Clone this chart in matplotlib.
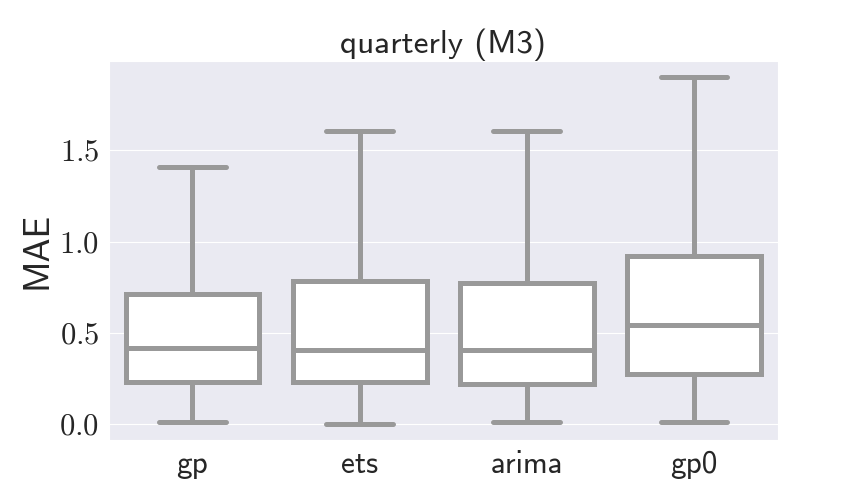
import matplotlib
matplotlib.use("Agg")
import matplotlib.pyplot as plt
from matplotlib.ticker import FuncFormatter, MultipleLocator
import seaborn as sns

methods = ["gp", "ets", "arima", "gp0"]
whislo = [0.011, 0.005, 0.011, 0.011]
q1 = [0.230, 0.230, 0.224, 0.274]
med = [0.416, 0.405, 0.410, 0.547]
q3 = [0.712, 0.783, 0.777, 0.925]
whishi = [1.412, 1.604, 1.604, 1.905]

sns.set_style("darkgrid")
plt.rcParams["mathtext.fontset"] = "cm"
plt.rcParams["font.family"] = ["cmss10", "DejaVu Sans"]

stats = []
for i, m in enumerate(methods):
    stats.append({"label": m, "whislo": whislo[i], "q1": q1[i], "med": med[i],
                  "q3": q3[i], "whishi": whishi[i], "fliers": []})

gray = "#999999"
lw = 3.6
fig, ax = plt.subplots(figsize=(8.64, 5.04), dpi=100)
ax.bxp(stats, positions=range(len(methods)), widths=0.8, patch_artist=True,
       showfliers=False,
       boxprops=dict(facecolor="white", edgecolor=gray, linewidth=lw),
       medianprops=dict(color=gray, linewidth=lw),
       whiskerprops=dict(color=gray, linewidth=lw),
       capprops=dict(color=gray, linewidth=lw, solid_capstyle="round"),
       capwidths=0.4)

ax.set_xlim(-0.5, len(methods) - 0.5)
ax.set_ylim(-0.085, 1.99)
ax.xaxis.grid(False)
ax.yaxis.set_major_locator(MultipleLocator(0.5))
ax.yaxis.set_major_formatter(FuncFormatter(lambda v, p: r"$%.1f$" % v))
ax.tick_params(axis="y", labelsize=22)
ax.tick_params(axis="x", labelsize=22.5)
ax.set_ylabel("MAE", fontsize=26)
ax.set_title("quarterly (M3)", fontsize=24)

fig.subplots_adjust(left=0.126, right=0.9, top=0.879, bottom=0.127)
fig.savefig("out.png", dpi=100)
